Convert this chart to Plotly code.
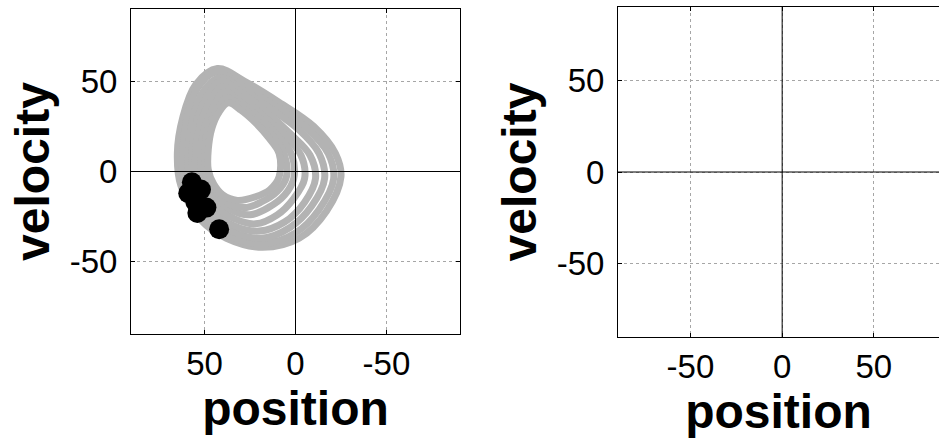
import plotly.graph_objects as go

# ---- data: gray phase-plane cycles (position, velocity) ----
cycle1_pos = [43, 28, 10, -10, -22, -25, -17, -2, 18, 38, 52, 63, 65, 62, 55, 43]
cycle1_vel = [57, 50, 39, 25, 10, -3, -22, -37, -42, -37, -27, -8, 10, 30, 48, 57]
cycle2_pos = [44, 29, 12, -6, -18, -21, -13, 0, 18, 36, 50, 61, 62, 60, 54, 44]
cycle2_vel = [55, 47, 37, 24, 10, -4, -21, -34, -40, -36, -26, -9, 9, 28, 46, 55]
cycle3_pos = [42, 30, 14, -2, -13, -16, -9, 3, 19, 35, 48, 58, 59, 57, 51, 42]
cycle3_vel = [52, 46, 35, 23, 10, -4, -19, -31, -37, -33, -24, -8, 9, 27, 44, 52]
cycle4_pos = [41, 30, 16, 3, -8, -11, -5, 6, 20, 34, 46, 56, 57, 55, 49, 41]
cycle4_vel = [50, 44, 33, 21, 9, -4, -17, -28, -33, -30, -21, -7, 8, 25, 41, 50]
cycle5_pos = [40, 31, 18, 6, -3, -5, 1, 10, 22, 34, 45, 54, 55, 53, 47, 40]
cycle5_vel = [47, 42, 31, 20, 9, -4, -15, -24, -29, -26, -18, -6, 8, 24, 39, 47]
cycle6_pos = [39, 31, 19, 9, 2, 1, 6, 15, 25, 36, 44, 51, 52, 50, 45, 39]
cycle6_vel = [44, 39, 29, 19, 9, -4, -13, -20, -24, -21, -14, -4, 10, 24, 36, 44]
cycle7_pos = [38, 31, 21, 12, 6, 5, 10, 19, 28, 38, 44, 49, 50, 48, 43, 38]
cycle7_vel = [41, 37, 28, 19, 9, -3, -11, -17, -20, -17, -10, -2, 11, 24, 34, 41]
cycle8_pos = [37, 30, 22, 15, 9, 9, 14, 22, 32, 40, 45, 48, 48, 46, 42, 37]
cycle8_vel = [38, 34, 27, 19, 10, -3, -10, -14, -16, -13, -7, 1, 12, 24, 33, 38]

# ---- data: black event points ----
event_pos = [57, 52, 59, 55, 49, 54, 42]
event_vel = [-6, -10, -12, -17, -20, -23, -32]

# ---- tick values ----
tick_vals = [-50, 0, 50]
tick_text = ["-50", "0", "50"]

cycles = [
    (cycle1_pos, cycle1_vel), (cycle2_pos, cycle2_vel), (cycle3_pos, cycle3_vel),
    (cycle4_pos, cycle4_vel), (cycle5_pos, cycle5_vel), (cycle6_pos, cycle6_vel),
    (cycle7_pos, cycle7_vel), (cycle8_pos, cycle8_vel),
]

GRAY = "#b3b3b3"
FONT = "Liberation Sans, Arial, sans-serif"

fig = go.Figure()
for p, v in cycles:
    fig.add_trace(go.Scatter(
        x=p, y=v, mode="lines", xaxis="x", yaxis="y",
        line=dict(color=GRAY, width=7, shape="spline", smoothing=1.0),
        showlegend=False, hoverinfo="skip",
    ))
fig.add_trace(go.Scatter(
    x=event_pos, y=event_vel, mode="markers", xaxis="x", yaxis="y",
    marker=dict(color="black", size=20, line=dict(width=0)),
    showlegend=False,
))
# empty right panel
fig.add_trace(go.Scatter(x=[None], y=[None], xaxis="x2", yaxis="y2",
                         mode="markers", showlegend=False))

tickfont = dict(family=FONT, size=33, color="black")
titlefont = dict(family=FONT, size=48, color="black", weight="bold")

common = dict(
    tickmode="array", tickvals=tick_vals, ticktext=tick_text,
    ticks="inside", ticklen=4, tickwidth=1, tickcolor="black",
    showline=True, linecolor="black", linewidth=1,
    showgrid=True, gridcolor="#a6a6a6", gridwidth=1, griddash="dot",
    zeroline=False, tickfont=tickfont,
)

fig.update_layout(
    width=939, height=438, margin=dict(l=0, r=0, t=0, b=0),
    paper_bgcolor="white", plot_bgcolor="white",
    xaxis=dict(domain=[131/939, 460/939], range=[90.5, -90.5], mirror="ticks",
               title=dict(text="position", font=titlefont, standoff=10),
               anchor="y", ticklabelstandoff=0, **common),
    yaxis=dict(domain=[(438-334)/438, (438-9)/438], range=[-90, 90], mirror="ticks",
               title=dict(text="velocity", font=titlefont, standoff=4),
               anchor="x", ticklabelstandoff=6, **common),
    xaxis2=dict(domain=[618/939, 1.0], range=[-89.5, 85.5], mirror="ticks",
                title=dict(text="position", font=titlefont, standoff=10),
                anchor="y2", ticklabelstandoff=0, **common),
    yaxis2=dict(domain=[(438-337)/438, (438-7)/438], range=[-90, 90], mirror=False,
                title=dict(text="velocity", font=titlefont, standoff=4),
                anchor="x2", ticklabelstandoff=6, **common),
)

# zero lines drawn above the data
for xr, yr in (("x", "y"), ("x2", "y2")):
    fig.add_shape(type="line", xref=xr, yref=f"{yr} domain", x0=0, x1=0, y0=0, y1=1,
                  line=dict(color="black", width=1), layer="above")
    fig.add_shape(type="line", xref=f"{xr} domain", yref=yr, x0=0, x1=1, y0=0, y1=0,
                  line=dict(color="black", width=1), layer="above")

fig.write_html("out.html")
